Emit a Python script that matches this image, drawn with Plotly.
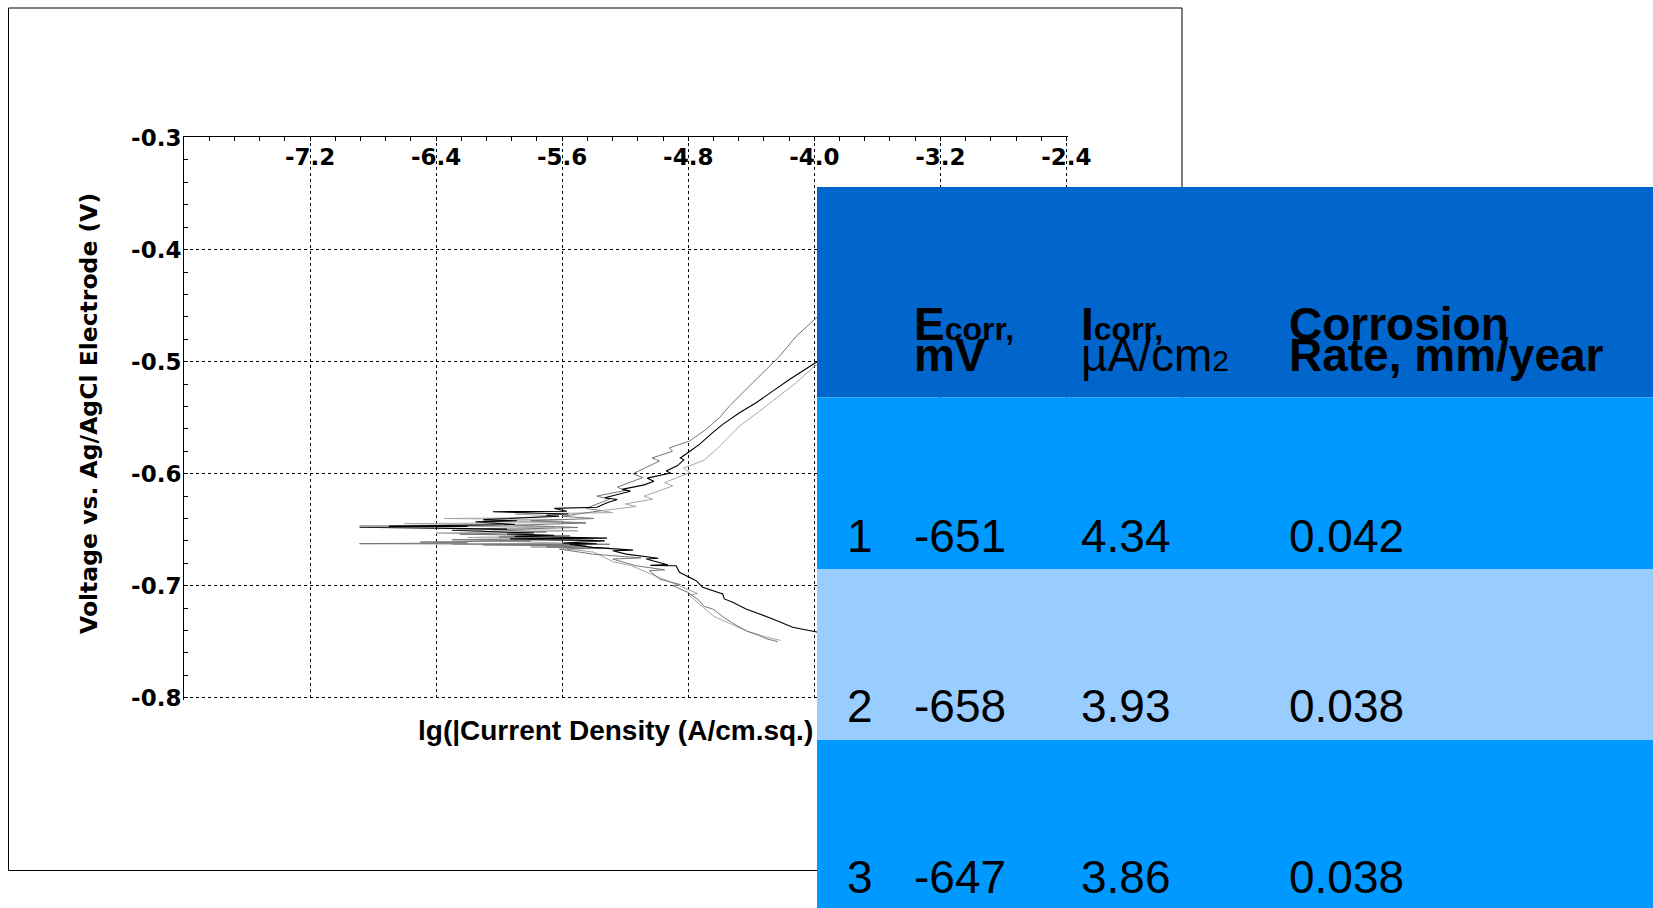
import plotly.graph_objects as go

# ---------------- data ----------------
x_ticks = [-7.2, -6.4, -5.6, -4.8, -4.0, -3.2, -2.4]
x_tick_labels = ["-7.2", "-6.4", "-5.6", "-4.8", "-4.0", "-3.2", "-2.4"]
y_ticks = [-0.3, -0.4, -0.5, -0.6, -0.7, -0.8]
y_tick_labels = ["-0.3", "-0.4", "-0.5", "-0.6", "-0.7", "-0.8"]

# curve 1 (black)
c1_x = [-3.60, -3.80, -3.967, -4.137, -4.264, -4.348, -4.433, -4.518, -4.571, -4.581,
        -4.666, -4.708, -4.750, -4.792, -4.856, -4.877, -5.040, -4.930, -5.067, -4.990,
        -5.194, -5.279, -5.150, -5.406, -5.554,
        -5.380, -5.600, -5.330, -5.930, -5.315, -5.900, -5.650, -5.950, -5.780, -6.300,
        -5.950, -6.886, -6.200, -6.700, -5.900, -6.150, -5.887, -6.100, -5.620, -5.700,
        -5.560, -6.040, -5.570, -5.650, -5.380, -5.315,
        -5.250, -5.330, -5.167, -5.220, -5.080, -5.018, -5.060, -4.912, -4.940, -4.870,
        -4.828, -4.850, -4.790, -4.729, -4.645, -4.581, -4.475, -4.369, -4.264,
        -4.158, -4.000, -3.800, -3.600]
c1_y = [-0.7520, -0.7465, -0.7415, -0.7370, -0.7297, -0.7252, -0.7207, -0.7148, -0.7118, -0.7074,
        -0.7030, -0.7014, -0.6955, -0.6925, -0.6880, -0.6822, -0.6818, -0.6812, -0.6762, -0.6755,
        -0.6718, -0.6688, -0.6682, -0.6658, -0.6629,
        -0.6626, -0.6620, -0.6600, -0.6582, -0.6575, -0.6560, -0.6550, -0.6538, -0.6530, -0.6505,
        -0.6495, -0.6478, -0.6472, -0.6468, -0.6455, -0.6430, -0.6420, -0.6410, -0.6380, -0.6370,
        -0.6360, -0.6340, -0.6335, -0.6310, -0.6300, -0.6259,
        -0.6230, -0.6215, -0.6156, -0.6140, -0.6100, -0.6068, -0.6040, -0.5994, -0.5975, -0.5930,
        -0.5876, -0.5860, -0.5800, -0.5738, -0.5634, -0.5560, -0.5456, -0.5367, -0.5263,
        -0.5159, -0.5016, -0.4840, -0.4660]

# curve 2 (dark gray)
c2_x = [-4.232, -4.300, -4.348, -4.420, -4.475, -4.560, -4.645, -4.700, -4.729, -4.803,
        -4.898, -4.850, -4.983, -5.046, -4.950, -5.130, -5.279, -5.100, -5.406, -5.533,
        -5.617,
        -5.350, -5.700, -5.450, -6.100, -5.300, -6.886, -6.200, -6.500, -5.800, -6.300,
        -5.600, -6.000, -5.550, -6.250, -5.700, -6.050, -5.500, -5.900, -5.450, -5.800,
        -5.400, -5.600,
        -5.350, -5.450, -5.300, -5.380, -5.200, -5.250, -5.089, -5.150, -4.983, -5.030,
        -4.900, -4.920, -4.792, -4.687, -4.602, -4.539, -4.433, -4.327, -4.221, -4.115,
        -3.999, -3.850]
c2_y = [-0.7499, -0.7475, -0.7445, -0.7410, -0.7370, -0.7297, -0.7207, -0.7185, -0.7134, -0.7059,
        -0.7000, -0.6990, -0.6940, -0.6866, -0.6858, -0.6822, -0.6762, -0.6752, -0.6718, -0.6688,
        -0.6673,
        -0.6665, -0.6655, -0.6645, -0.6635, -0.6630, -0.6625, -0.6618, -0.6610, -0.6600, -0.6590,
        -0.6580, -0.6565, -0.6555, -0.6540, -0.6520, -0.6500, -0.6480, -0.6460, -0.6440, -0.6420,
        -0.6400, -0.6380,
        -0.6330, -0.6310, -0.6228, -0.6200, -0.6150, -0.6120, -0.6035, -0.6000, -0.5887, -0.5860,
        -0.5800, -0.5770, -0.5709, -0.5605, -0.5500, -0.5397, -0.5248, -0.5100, -0.4952, -0.4774,
        -0.4625, -0.4450]

# curve 3 (light gray)
c3_x = [-4.213, -4.300, -4.425, -4.500, -4.637, -4.700, -4.796, -4.740, -4.912, -5.018,
        -5.167, -5.273, -5.400, -5.569,
        -5.300, -5.800, -5.500, -6.300, -5.600, -6.000, -5.400, -6.200, -5.700, -6.400,
        -5.500, -6.100, -5.650, -6.886, -6.000, -6.600, -5.450, -6.100, -5.600, -6.350,
        -5.940, -5.620, -5.900, -5.279,
        -5.350, -5.130, -5.200, -5.025, -5.080, -4.898, -4.950, -4.792, -4.830, -4.700,
        -4.613, -4.475, -4.348, -4.221, -4.115, -3.999, -3.850]
c3_y = [-0.7488, -0.7460, -0.7406, -0.7360, -0.7274, -0.7200, -0.7082, -0.7070, -0.6965, -0.6906,
        -0.6818, -0.6788, -0.6700, -0.6671,
        -0.6665, -0.6655, -0.6645, -0.6630, -0.6620, -0.6600, -0.6590, -0.6570, -0.6555, -0.6530,
        -0.6510, -0.6490, -0.6475, -0.6465, -0.6455, -0.6445, -0.6436, -0.6420, -0.6410, -0.6400,
        -0.6395, -0.6380, -0.6360, -0.6347,
        -0.6330, -0.6293, -0.6270, -0.6228, -0.6200, -0.6110, -0.6080, -0.5990, -0.5950, -0.5880,
        -0.5773, -0.5575, -0.5442, -0.5308, -0.5189, -0.5041, -0.4900]

# table
row_ids = ["1", "2", "3"]
ecorr_mv = ["-651", "-658", "-647"]
icorr_ua = ["4.34", "3.93", "3.86"]
rate_mmy = ["0.042", "0.038", "0.038"]
header_line1 = ["E<span style='font-size:32px'>corr,</span>",
                "I<span style='font-size:32px'>corr,</span>",
                "Corrosion"]
header_line2 = ["mV", "\u00b5A/cm<span style='font-size:30px'>2</span>", "Rate, mm/year"]
header_line2_bold = [True, False, True]

# ---------------- layout helpers ----------------
W, H = 1653, 908
ML, MR, MT, MB = 184, 585, 137, 208
PW = W - ML - MR
PH = H - MT - MB


def fx(px):
    return (px - ML) / PW


def fy(py):
    return (H - MB - py) / PH


fig = go.Figure()
for xs, ys, col, wd in [(c3_x, c3_y, "#a8a8a8", 1), (c2_x, c2_y, "#767676", 1),
                        (c1_x, c1_y, "#000000", 1.1)]:
    fig.add_trace(go.Scatter(x=xs, y=ys, mode="lines",
                             line=dict(color=col, width=wd), showlegend=False,
                             hoverinfo="skip"))

tickfont = dict(family="DejaVu Sans", size=23, color="black", weight="bold")

fig.update_xaxes(
    range=[-8.0, -2.39], side="top", tickmode="array", tickvals=x_ticks,
    ticktext=x_tick_labels, ticklabelposition="inside", ticklabeloverflow="allow",
    ticks="inside", ticklen=4,
    tickcolor="black", tickfont=tickfont, showline=True, linecolor="black", linewidth=1,
    showgrid=True, gridcolor="black", gridwidth=1, griddash="3px,3px", zeroline=False,
    ticklabelstandoff=10, automargin=False,
    minor=dict(tickmode="linear", tick0=-8.0, dtick=0.16, ticks="inside", ticklen=4,
               tickcolor="black", tickwidth=1, showgrid=False),
)
fig.update_yaxes(
    range=[-0.802, -0.2995], tickmode="array", tickvals=y_ticks, ticktext=y_tick_labels,
    ticklabeloverflow="allow",
    ticks="inside", ticklen=4, tickcolor="black", tickfont=tickfont, showline=True,
    linecolor="black", linewidth=1, showgrid=True, gridcolor="black", gridwidth=1,
    griddash="3px,3px", zeroline=False, ticklabelstandoff=-3, automargin=False,
    minor=dict(tickmode="linear", tick0=-0.8, dtick=0.02, ticks="inside", ticklen=4,
               tickcolor="black", tickwidth=1, showgrid=False),
)

shapes = []
# outer frame of the chart image
shapes.append(dict(type="rect", xref="paper", yref="paper", x0=fx(8.5), x1=fx(1182),
                   y0=fy(870.5), y1=fy(8), line=dict(color="black", width=1),
                   fillcolor="rgba(0,0,0,0)", layer="above"))
# table bands
band_tops = [187, 397.5, 569, 740]
band_bottoms = [397.5, 569, 740, 908]
band_colors = ["#0066CC", "#0099FF", "#99CCFF", "#0099FF"]
for t, b, c in zip(band_tops, band_bottoms, band_colors):
    shapes.append(dict(type="rect", xref="paper", yref="paper", x0=fx(817), x1=fx(W),
                       y0=fy(b), y1=fy(t), line=dict(width=0), fillcolor=c, layer="above"))

annotations = []
FS = 46
col_x = [845, 912, 1079, 1287]


def add_text(txt, px, baseline, size, bold, family="Liberation Sans, Arial"):
    center = baseline - 0.3465 * size
    annotations.append(dict(text=txt, xref="paper", yref="paper", x=fx(px), y=fy(center),
                            xanchor="left", yanchor="middle", showarrow=False,
                            font=dict(family=family, size=size, color="black",
                                      weight="bold" if bold else "normal")))


for i, t in enumerate(header_line1):
    add_text(t, col_x[i + 1], 340, FS, True)
for i, t in enumerate(header_line2):
    add_text(t, col_x[i + 1], 371, FS, header_line2_bold[i])

row_baselines = [552, 722, 893]
for r in range(3):
    vals = [row_ids[r], ecorr_mv[r], icorr_ua[r], rate_mmy[r]]
    for c, v in enumerate(vals):
        add_text(v, col_x[c], row_baselines[r], FS, False)

# axis titles
annotations.append(dict(text="Voltage vs. Ag/AgCl Electrode (V)", xref="paper", yref="paper",
                        x=fx(89), y=fy(414), xanchor="center", yanchor="middle",
                        textangle=-90, showarrow=False,
                        font=dict(family="DejaVu Sans", size=23.5, color="black",
                                  weight="bold")))
add_text("lg(|Current Density (A/cm.sq.)", 416, 740, 28, True)

fig.update_layout(
    width=W, height=H, autosize=False,
    margin=dict(l=ML, r=MR, t=MT, b=MB, pad=0),
    paper_bgcolor="white", plot_bgcolor="white",
    shapes=shapes, annotations=annotations, showlegend=False,
)

fig.write_html("out.html")
